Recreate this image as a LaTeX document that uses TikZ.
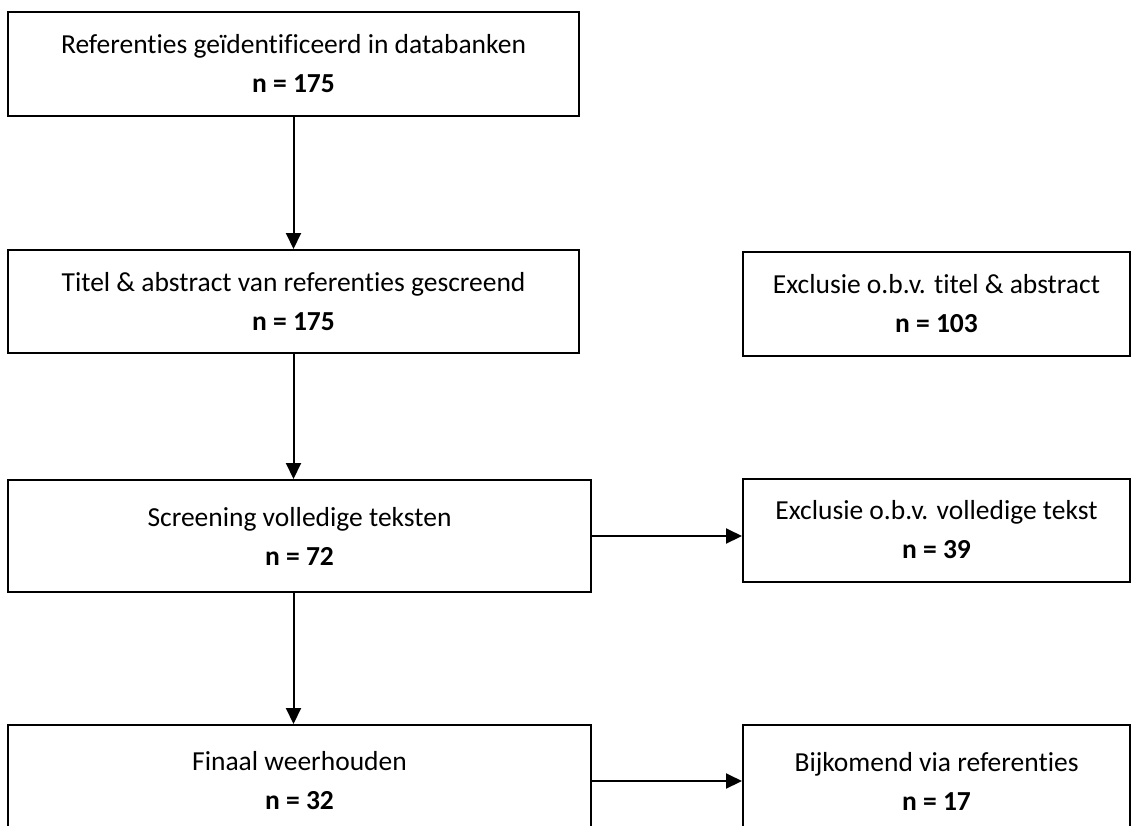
\documentclass[tikz,border=0pt]{standalone}
\usepackage{fontspec}
\setmainfont{Carlito}[Ligatures=NoCommon]
\usetikzlibrary{arrows.meta}
\begin{document}
\begin{tikzpicture}[x=1pt,y=-1pt,
  flowbox/.style={draw=black,line width=2pt,fill=white,align=center,
    inner sep=0pt,font=\fontsize{27.5}{39}\selectfont},
  arr/.style={line width=2pt,-{Triangle[length=16pt,width=15pt]}}]
\useasboundingbox (0,0) rectangle (1131,825);
\clip (0,0) rectangle (1131,825);
% main column
\node[flowbox,minimum width=571pt,minimum height=104pt] (b1) at (293.5,64)
  {Referenties geïdentificeerd in databanken\\\textbf{n = 175}};
\node[flowbox,minimum width=571pt,minimum height=103pt] (b2) at (293.5,301.5)
  {Titel \& abstract van referenties gescreend\\\textbf{n = 175}};
\node[flowbox,minimum width=583pt,minimum height=112pt] (b3) at (299.5,536)
  {Screening volledige teksten\\\textbf{n = 72}};
\node[flowbox,minimum width=583pt,minimum height=112pt] (b4) at (299.5,781)
  {Finaal weerhouden\\\textbf{n = 32}};
% side column
\node[flowbox,minimum width=387pt,minimum height=104pt] (x1) at (936.5,304)
  {Exclusie o.b.v. titel \& abstract\\\textbf{n = 103}};
\node[flowbox,minimum width=387pt,minimum height=103pt] (x2) at (936.5,530)
  {Exclusie o.b.v. volledige tekst\\\textbf{n = 39}};
\node[flowbox,minimum width=387pt,minimum height=112pt] (x3) at (936.5,781)
  {Bijkomend via referenties\\\textbf{n = 17}};
% connectors
\draw[arr] (b1.south) -- (b1.south |- b2.north);
\draw[arr] (b2.south) -- (b2.south |- b3.north);
\draw[arr] (b2.south |- b3.south) -- (b2.south |- b4.north);
\draw[arr] (b3.east) -- (b3.east -| x2.west);
\draw[arr] (b4.east) -- (b4.east -| x3.west);
\end{tikzpicture}
\end{document}
